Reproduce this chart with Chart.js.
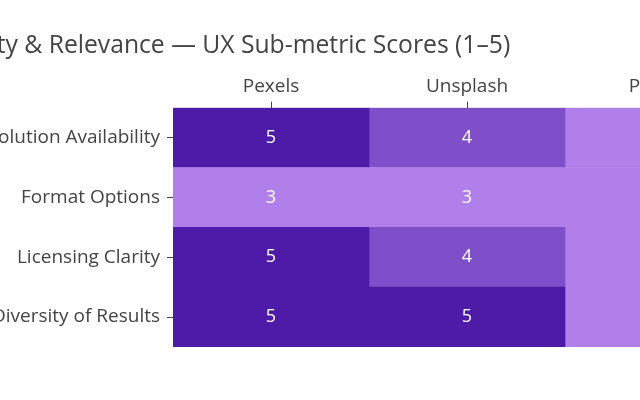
<!DOCTYPE html>
<html>
<head>
<meta charset="utf-8">
<script src="https://cdn.jsdelivr.net/npm/chart.js@4.4.1/dist/chart.umd.min.js"></script>
<style>
    html, body { margin: 0; padding: 0; width: 640px; height: 400px; overflow: hidden; background: #fff; }
    #wrap { position: absolute; left: -141px; top: 0; width: 926px; height: 400px; }
</style>
</head>
<body>
<div id="wrap"><canvas id="heatmapChart"></canvas></div>
<script>
const chartTitle = 'Image Quality & Relevance — UX Sub-metric Scores (1–5)';
const sources = ['Pexels', 'Unsplash', 'Pixabay'];
const metrics = ['Resolution Availability', 'Format Options', 'Licensing Clarity', 'Diversity of Results'];

// scores per source, one value per metric (top to bottom)
const pexelsScores = [5, 3, 5, 5];
const unsplashScores = [4, 3, 4, 5];
const pixabayScores = [3, 3, 3, 3];

const scoreColors = { 3: '#b07fe9', 4: '#7f4fc9', 5: '#4e1ba8' };

const offsetLeft = 141;

// Prepare the datasets, one column of cells per source
var allScores = [pexelsScores, unsplashScores, pixabayScores];
var datasets = sources.map((name, index) => {
    return {
        label: name,
        data: allScores[index].map(() => [index, index + 1]),
        scores: allScores[index],
        backgroundColor: allScores[index].map(s => scoreColors[s]),
        borderWidth: 0,
        barPercentage: 1,
        categoryPercentage: 1,
        grouped: false
    };
});

// write the score in the middle of each cell
const cellText = {
    id: 'cellText',
    afterDatasetsDraw(chart) {
        var ctx = chart.ctx;
        ctx.save();
        ctx.fillStyle = '#ffffff';
        ctx.font = '18px "Open Sans"';
        ctx.textAlign = 'center';
        ctx.textBaseline = 'middle';
        chart.data.datasets.forEach((ds, i) => {
            chart.getDatasetMeta(i).data.forEach((el, j) => {
                ctx.fillText(String(ds.scores[j]), (el.x + el.base) / 2, el.y);
            });
        });
        ctx.restore();
    }
};

var ctx = document.getElementById('heatmapChart').getContext('2d');
new Chart(ctx, {
    type: 'bar',
    data: {
        labels: metrics,
        datasets: datasets
    },
    plugins: [cellText],
    options: {
        indexAxis: 'y',
        responsive: true,
        maintainAspectRatio: false,
        animation: false,
        layout: { padding: { left: 0, right: 24, bottom: 53 } },
        scales: {
            x: {
                type: 'linear',
                min: 0,
                max: 3,
                display: false
            },
            x2: {
                type: 'category',
                position: 'top',
                labels: sources,
                offset: true,
                grid: { offset: false, drawOnChartArea: false, drawTicks: true, tickLength: 6, color: '#444' },
                border: { display: false },
                ticks: { color: '#444', font: { family: 'Open Sans', size: 19 }, padding: 4 },
                afterFit: function (scale) { scale.height = 47; }
            },
            y: {
                grid: { offset: false, drawOnChartArea: false, drawTicks: true, tickLength: 6, color: '#444' },
                border: { display: false },
                ticks: { color: '#444', font: { family: 'Open Sans', size: 19 }, padding: 7 },
                afterFit: function (scale) { scale.width = 173 + offsetLeft; }
            }
        },
        plugins: {
            legend: { display: false },
            tooltip: { enabled: false },
            title: {
                display: true,
                text: chartTitle,
                align: 'start',
                color: '#444',
                font: { family: 'Open Sans', size: 24.7, weight: 'normal' },
                padding: { top: 31, bottom: 0 }
            }
        }
    }
});
</script>
</body>
</html>
